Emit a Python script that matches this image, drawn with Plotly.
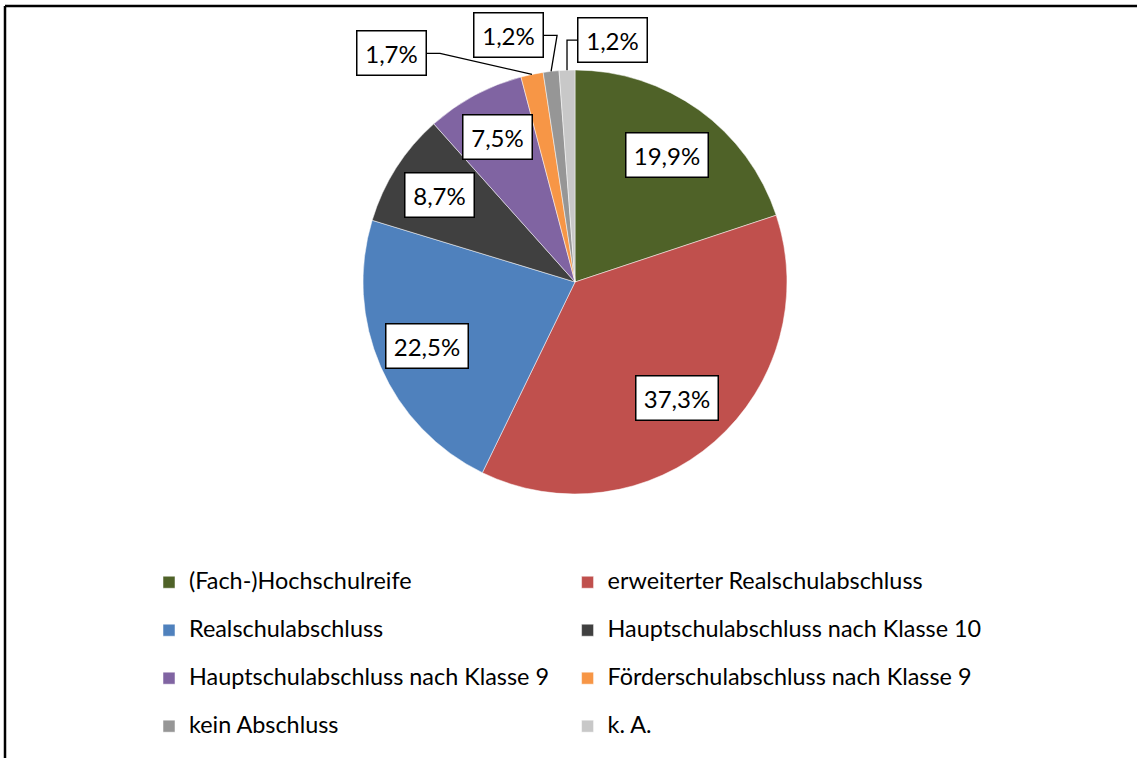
import math
import plotly.graph_objects as go

categories = [
    "(Fach-)Hochschulreife",
    "erweiterter Realschulabschluss",
    "Realschulabschluss",
    "Hauptschulabschluss nach Klasse 10",
    "Hauptschulabschluss nach Klasse 9",
    "Förderschulabschluss nach Klasse 9",
    "kein Abschluss",
    "k. A.",
]
values = [19.9, 37.3, 22.5, 8.7, 7.5, 1.7, 1.2, 1.2]
value_labels = ["19,9%", "37,3%", "22,5%", "8,7%", "7,5%", "1,7%", "1,2%", "1,2%"]
colors = ["#4F6228", "#C0504D", "#4F81BD", "#404040", "#8064A2", "#F79646", "#969696", "#C8C8C8"]

W, H = 1137, 758
CX, CY, R = 575, 282, 212  # pie centre / radius in pixels

FONT = "Lato"
LEG_TEXT_PX = 23.4
LEG_BASE = 17.3  # base legend font -> sets row pitch

# legend labels: empty first line + styled text line -> taller rows like the original
legend_labels = [f"<br><span style='font-size:{LEG_TEXT_PX}px'>{c}</span>" for c in categories]

fig = go.Figure(go.Pie(
    labels=legend_labels,
    values=values,
    sort=False,
    direction="clockwise",
    rotation=0,
    marker=dict(colors=colors, line=dict(color="white", width=0.5)),
    textinfo="none",
    hovertext=categories,
    hoverinfo="text+percent",
    domain=dict(x=[(CX - R) / W, (CX + R) / W], y=[1 - (CY + R) / H, 1 - (CY - R) / H]),
))

inside_r = [0.74, 0.73, 0.76, 0.76, 0.775]
outside_off = {5: (-141, -21), 6: (-43, -36), 7: (45, -30)}  # box centre offset from slice edge (px)

total = sum(values)
cum = 0.0
annotations = []
shapes = []


def label_ann(px, py, txt):
    return dict(
        x=px / W, y=1 - py / H, xref="paper", yref="paper",
        xanchor="center", yanchor="middle",
        text=txt, showarrow=False,
        font=dict(family=FONT, size=24, color="black"),
        bgcolor="white", bordercolor="black", borderwidth=1.5, borderpad=7,
        width=54 if len(txt) <= 4 else 67,
    )


for i, v in enumerate(values):
    mid = (cum + v / 2) / total * 2 * math.pi
    cum += v
    s, c = math.sin(mid), math.cos(mid)
    if i in outside_off:
        ex, ey = CX + R * s, CY - R * c
        dx, dy = outside_off[i]
        bx, by = ex + dx, ey + dy
        annotations.append(label_ann(bx, by, value_labels[i]))
        half_w = 35
        if dx < 0:
            x0 = bx + half_w
            elbow = (x0 + 14, by)
            if i == 6:
                elbow = (ex + 6, by)
        else:
            x0 = bx - half_w
            elbow = (ex, by)
        pts = [(x0, by), elbow, (ex, ey)]
        path = "M " + " L ".join(f"{px / W},{1 - py / H}" for px, py in pts)
        shapes.append(dict(type="path", path=path, xref="paper", yref="paper",
                           line=dict(color="black", width=1.3)))
    else:
        rr = inside_r[i] * R
        annotations.append(label_ann(CX + rr * s, CY - rr * c, value_labels[i]))

# chart frame (top and left edges)
shapes.append(dict(type="line", xref="paper", yref="paper", x0=5 / W, x1=1, y0=1 - 6 / H, y1=1 - 6 / H,
                   line=dict(color="black", width=2.5)))
shapes.append(dict(type="line", xref="paper", yref="paper", x0=5 / W, x1=5 / W, y0=0, y1=1 - 6 / H,
                   line=dict(color="black", width=2.5)))

fig.update_layout(
    width=W, height=H,
    margin=dict(l=0, r=0, t=0, b=0),
    paper_bgcolor="white",
    plot_bgcolor="white",
    font=dict(family=FONT, size=20, color="black"),
    showlegend=True,
    legend=dict(
        orientation="h",
        x=149 / W, xanchor="left",
        y=1 - 542 / H, yanchor="top",
        font=dict(family=FONT, size=LEG_BASE, color="black"),
        traceorder="normal",
        valign="bottom",
        bgcolor="rgba(0,0,0,0)",
    ),
    annotations=annotations,
    shapes=shapes,
)

fig.write_html("out.html", config={"displayModeBar": False},
               post_script="document.body.style.margin='0';")
